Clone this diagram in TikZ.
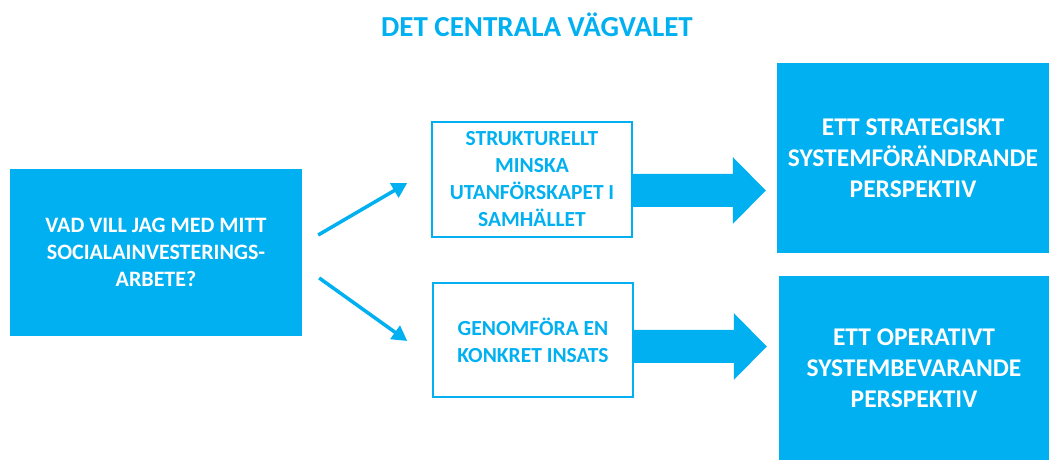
\documentclass[tikz,border=0pt]{standalone}
\usepackage{fontspec}
\setmainfont{Carlito}
\usetikzlibrary{arrows.meta,calc}
\definecolor{skyblue}{RGB}{0,176,240}
\tikzset{
  heading/.style={text=skyblue,font=\bfseries\fontsize{29}{33}\selectfont,anchor=base,inner sep=0pt},
  fillbox/.style={fill=skyblue,text=white,align=center,inner sep=0pt},
  linebox/.style={draw=skyblue,line width=1.5pt,text=skyblue,align=center,inner sep=0pt,
    minimum width=200pt,font=\bfseries\fontsize{21.5}{27}\selectfont},
  thinarrow/.style={draw=skyblue,line width=3.5pt,-{Triangle[length=15pt,width=16pt]}}
}
\begin{document}
\begin{tikzpicture}[x=1pt,y=1pt]
  \useasboundingbox (0,0) rectangle (1049,460);
  \node[heading] (title) at (537,423) {DET CENTRALA VÄGVALET};
  \node[fillbox,minimum width=292pt,minimum height=167pt,
    font=\bfseries\fontsize{22}{27}\selectfont] (q) at (156,207.5)
    {VAD VILL JAG MED MITT\\SOCIALAINVESTERINGS-\\ARBETE?};
  \node[linebox,minimum height=115pt] (mtop) at (532,280.5)
    {STRUKTURELLT\\MINSKA\\UTANFÖRSKAPET I\\SAMHÄLLET};
  \node[linebox,minimum height=114pt] (mbot) at (533,120)
    {GENOMFÖRA EN\\KONKRET INSATS};
  \node[fillbox,minimum width=272pt,minimum height=190pt,
    font=\bfseries\fontsize{25.5}{31}\selectfont] (rtop) at (913,302)
    {ETT STRATEGISKT\\SYSTEMFÖRÄNDRANDE\\PERSPEKTIV};
  \node[fillbox,minimum width=270pt,minimum height=184pt,
    font=\bfseries\fontsize{25.5}{31}\selectfont] (rbot) at (914,92)
    {ETT OPERATIVT\\SYSTEMBEVARANDE\\PERSPEKTIV};
  \coordinate (a1s) at ($(q.east)+(16,17.5)$);
  \coordinate (a1e) at ($(mtop.west)+(-24,-3.5)$);
  \coordinate (a2s) at ($(q.east)+(17,-25.5)$);
  \coordinate (a2e) at ($(mbot.west)+(-25,-1)$);
  \begin{scope}[thinarrow]
    \draw (a1s) to (a1e);
    \draw (a2s) to (a2e);
  \end{scope}
  \begin{scope}[fill=skyblue]
    \fill ($(mtop.east)+(0,5.5)$) -- ++(100,0) -- ++(0,17) -- ++(33,-33.5)
      -- ++(-33,-33.5) -- ++(0,17) -- ($(mtop.east)+(0,-27.5)$) -- cycle;
    \fill ($(mbot.east)+(0,10)$) -- ++(100,0) -- ++(0,17) -- ++(33,-33.5)
      -- ++(-33,-33.5) -- ++(0,17) -- ($(mbot.east)+(0,-23)$) -- cycle;
  \end{scope}
\end{tikzpicture}
\end{document}
